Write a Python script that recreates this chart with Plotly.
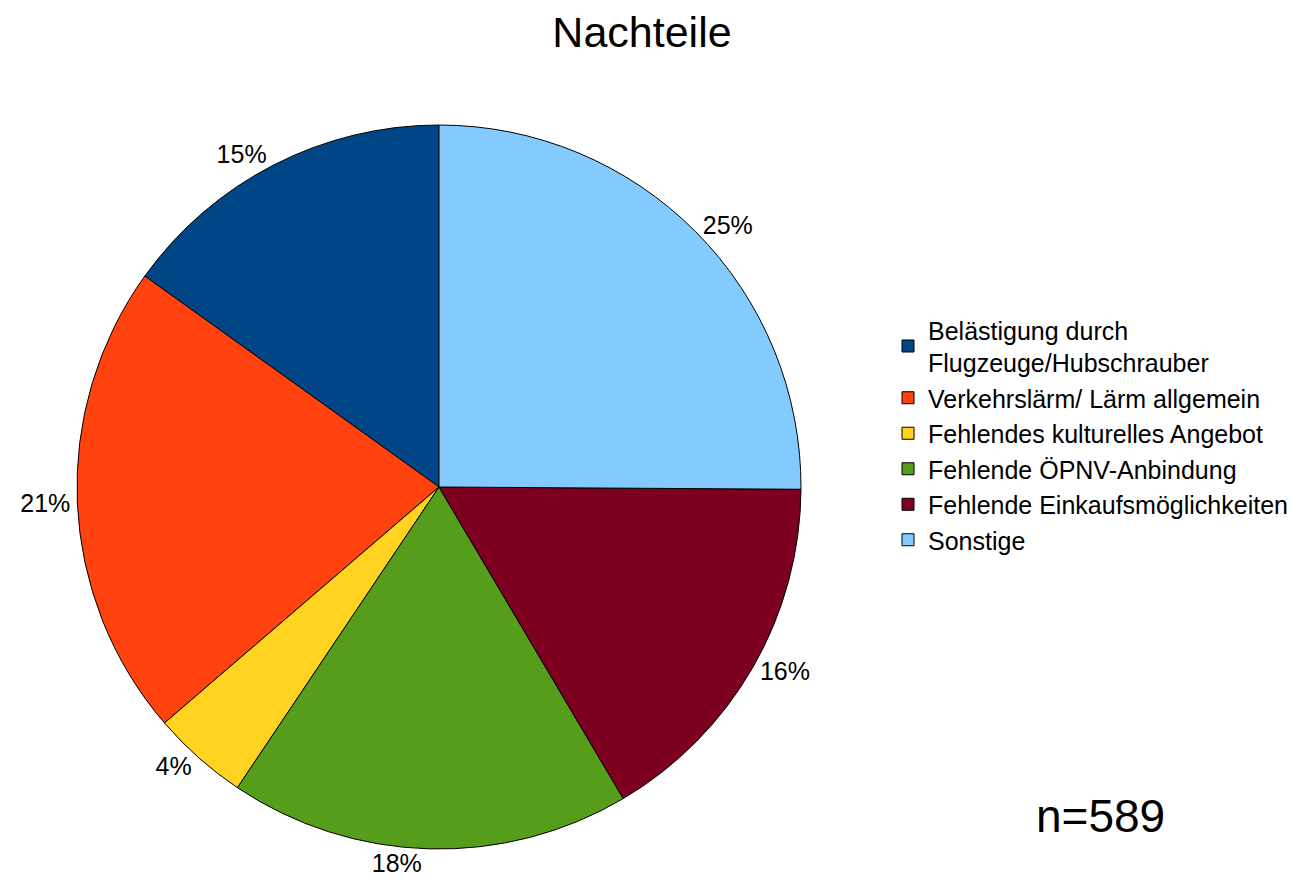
import plotly.graph_objects as go

# Nachteile – Anteile der Nennungen (%)
labels = [
    "Belästigung durch<br>Flugzeuge/Hubschrauber",
    "Verkehrslärm/ Lärm allgemein",
    "Fehlendes kulturelles Angebot",
    "Fehlende ÖPNV-Anbindung",
    "Fehlende Einkaufsmöglichkeiten",
    "Sonstige",
]
values = [15.1, 21.2, 4.3, 17.9, 16.4, 25.1]
colors = ["#004586", "#ff420e", "#ffd320", "#579d1c", "#7e0021", "#83caff"]

W, H = 1309, 882
cx, cy, r = 431, 479, 362

# first slice begins at 12 o'clock and runs counter-clockwise
start = -values[0] / sum(values) * 360

fig = go.Figure()
fig.add_trace(
    go.Pie(
        labels=labels,
        values=values,
        sort=False,
        direction="counterclockwise",
        rotation=start,
        marker=dict(colors=colors, line=dict(color="black", width=1)),
        textposition="outside",
        texttemplate="%{percent:.0%}",
        textfont=dict(size=25, color="black"),
        domain=dict(
            x=[(cx - r) / W, (cx + r) / W],
            y=[(H - cy - r) / H, (H - cy + r) / H],
        ),
        hoverinfo="label+percent",
    )
)

fig.add_annotation(
    text="n=589",
    x=1092 / W, y=(H - 808) / H,
    xref="paper", yref="paper",
    xanchor="center", yanchor="middle",
    showarrow=False,
    font=dict(size=46, color="black"),
)

fig.update_layout(
    width=W,
    height=H,
    margin=dict(l=0, r=0, t=0, b=0),
    paper_bgcolor="white",
    font=dict(family="Liberation Sans, Arial, sans-serif", color="black"),
    title=dict(
        text="Nachteile",
        x=634 / W, xanchor="center",
        y=1 - 24 / H, yanchor="middle",
        font=dict(size=43),
    ),
    legend=dict(
        x=880 / W, xanchor="left",
        y=1 - 299 / H, yanchor="top",
        font=dict(size=25),
        itemwidth=30,
        tracegroupgap=0,
        traceorder="normal",
    ),
)

fig.write_html("out.html")
